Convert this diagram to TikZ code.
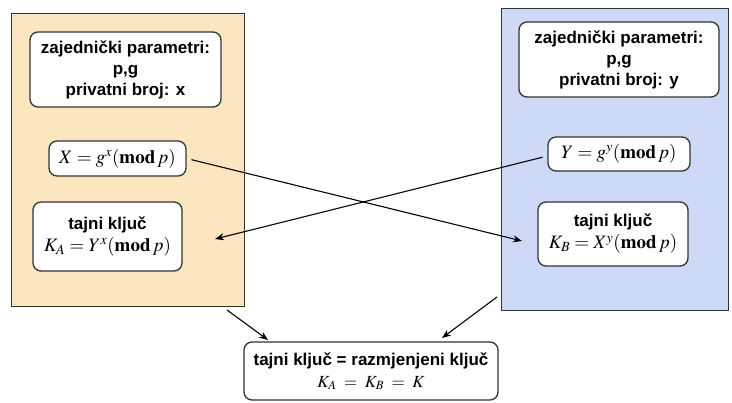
\documentclass[tikz,border=0pt]{standalone}
\usepackage{mathptmx}
\usepackage{fontspec}
\setmainfont{Liberation Sans}
\usetikzlibrary{arrows.meta,calc}
\definecolor{panelA}{HTML}{FCE6BF}
\definecolor{panelB}{HTML}{CDD9F6}
\definecolor{edge}{HTML}{333333}
\newcommand{\mfont}{\normalfont\fontsize{19}{21}\selectfont}
\begin{document}
\begin{tikzpicture}[x=1pt,y=-1pt,
  panel/.style={draw=edge,line width=1pt,inner sep=0pt,anchor=center},
  infobox/.style={draw=edge,fill=white,line width=1.3pt,rounded corners=8pt,inner sep=0pt,anchor=center,align=center,font=\bfseries\fontsize{17}{21}\selectfont},
  link/.style={line width=1.1pt,-{Stealth[length=9pt,width=7pt]}}]
\useasboundingbox (0,0) rectangle (732,403);
\node[panel,fill=panelA,minimum width=233pt,minimum height=293pt] (Lpanel) at (127.5,160.5) {};
\node[panel,fill=panelB,minimum width=227pt,minimum height=302pt] (Rpanel) at (614.5,160) {};
\node[infobox,minimum width=191pt,minimum height=75pt] (Ltop) at (125.5,69.5) {zajednički parametri:\\p,g\\privatni broj: x};
\node[infobox,minimum width=137pt,minimum height=35pt] (Lx) at (117.5,158.5) {\mfont$X = g^{x}(\mathbf{mod}\,p)$};
\node[infobox,minimum width=149pt,minimum height=69pt] (Lk) at (107.5,236.5) {tajni ključ\\[1pt]{\mfont$K_{A} = Y^{x}(\mathbf{mod}\,p)$}};
\node[infobox,minimum width=200pt,minimum height=75pt] (Rtop) at (619,59.5) {zajednički parametri:\\p,g\\privatni broj: y};
\node[infobox,minimum width=142pt,minimum height=34pt] (Ry) at (619,154) {\mfont$Y = g^{y}(\mathbf{mod}\,p)$};
\node[infobox,minimum width=150pt,minimum height=64pt] (Rk) at (613,234) {tajni ključ\\[1pt]{\mfont$K_{B} = X^{y}(\mathbf{mod}\,p)$}};
\node[infobox,minimum width=254pt,minimum height=58pt] (Bot) at (371,371) {tajni ključ = razmjenjeni ključ\\[1pt]{\normalfont\fontsize{17}{19}\selectfont$K_{A} \;=\; K_{B} \;=\; K$}};
\coordinate (tipR) at (522,241);
\coordinate (tipL) at (215,239);
\coordinate (s1) at (227,310);
\coordinate (t1) at (268,340);
\coordinate (s2) at (497,297);
\coordinate (t2) at (442,338);
\draw[link,shorten <=5pt] (Lx.east) -- (tipR);
\draw[link,shorten <=5pt] ($(Ry.west)+(0,2)$) -- (tipL);
\draw[link] (s1) -- (t1);
\draw[link] (s2) -- (t2);
\end{tikzpicture}
\end{document}
